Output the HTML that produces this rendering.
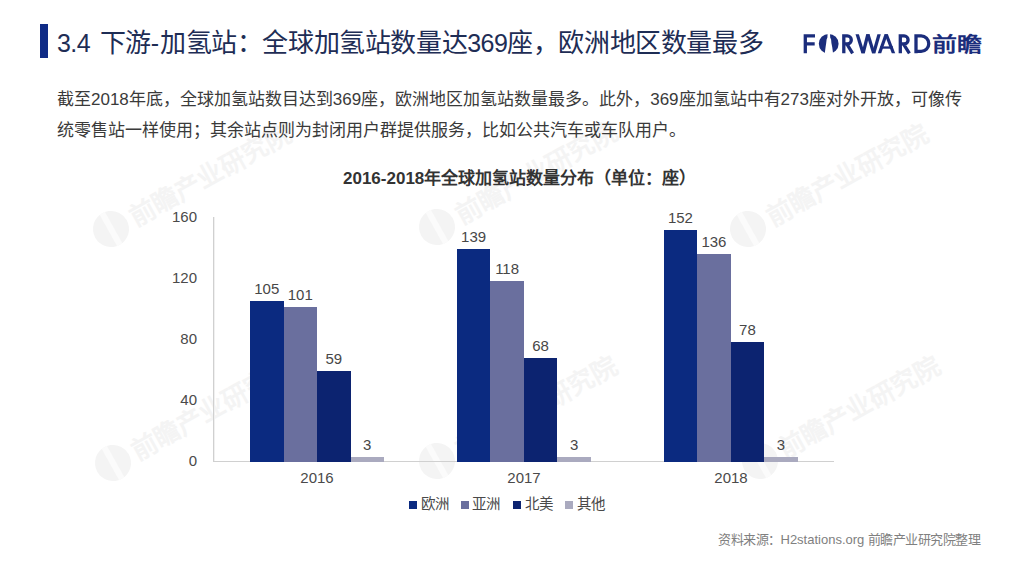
<!DOCTYPE html>
<html lang="zh-CN"><head><meta charset="utf-8">
<style>
html,body{margin:0;padding:0;background:#fff;}
body{width:1024px;height:564px;position:relative;overflow:hidden;font-family:"Liberation Sans",sans-serif;}
.a{position:absolute;white-space:nowrap;}
#tbar{left:40px;top:24px;width:8px;height:34px;background:#0f2b86;}
#title{left:57px;top:26px;font-size:26px;line-height:34px;color:#1e2d55;letter-spacing:-0.4px;}
#title .dg{font-size:25px;letter-spacing:-0.57px;}
.body{left:57px;font-size:17px;line-height:20px;color:#3a3a3a;}
#ctitle{left:343px;top:169px;font-size:17px;font-weight:bold;color:#333;line-height:20px;}
.yl{font-size:15px;color:#4a4a4a;line-height:16px;text-align:right;width:40px;}
.bar{position:absolute;}
.c1{background:#0b2a80;}
.c2{background:#6a6f9e;}
.c3{background:#0c2370;}
.c4{background:#aaaabf;}
.vl{font-size:15px;color:#474747;line-height:16px;text-align:center;width:60px;}
.lg{font-size:14.5px;color:#4a4a4a;line-height:16px;}
.sq{position:absolute;width:8px;height:8px;}
#src{left:718px;top:532px;font-size:13px;color:#808080;line-height:16px;}
</style></head><body>
<svg class="a" style="left:0;top:0;" width="1024" height="564" viewBox="0 0 1024 564">
<g transform="translate(111,229) rotate(-29)" fill="#f4f4f4"><circle cx="0" cy="0" r="18"/><rect x="-3" y="-18" width="6" height="36" fill="#fbfbfb"/><text x="23" y="10" font-size="26" font-weight="bold" style="font-family:'Liberation Sans',sans-serif" textLength="180" lengthAdjust="spacingAndGlyphs">前瞻产业研究院</text></g>
<g transform="translate(437,227) rotate(-29)" fill="#f4f4f4"><circle cx="0" cy="0" r="18"/><rect x="-3" y="-18" width="6" height="36" fill="#fbfbfb"/><text x="23" y="10" font-size="26" font-weight="bold" style="font-family:'Liberation Sans',sans-serif" textLength="180" lengthAdjust="spacingAndGlyphs">前瞻产业研究院</text></g>
<g transform="translate(748,229) rotate(-29)" fill="#f4f4f4"><circle cx="0" cy="0" r="18"/><rect x="-3" y="-18" width="6" height="36" fill="#fbfbfb"/><text x="23" y="10" font-size="26" font-weight="bold" style="font-family:'Liberation Sans',sans-serif" textLength="180" lengthAdjust="spacingAndGlyphs">前瞻产业研究院</text></g>
<g transform="translate(113,463) rotate(-29)" fill="#f4f4f4"><circle cx="0" cy="0" r="18"/><rect x="-3" y="-18" width="6" height="36" fill="#fbfbfb"/><text x="23" y="10" font-size="26" font-weight="bold" style="font-family:'Liberation Sans',sans-serif" textLength="180" lengthAdjust="spacingAndGlyphs">前瞻产业研究院</text></g>
<g transform="translate(437,461) rotate(-29)" fill="#f4f4f4"><circle cx="0" cy="0" r="18"/><rect x="-3" y="-18" width="6" height="36" fill="#fbfbfb"/><text x="23" y="10" font-size="26" font-weight="bold" style="font-family:'Liberation Sans',sans-serif" textLength="180" lengthAdjust="spacingAndGlyphs">前瞻产业研究院</text></g>
<g transform="translate(760,461) rotate(-29)" fill="#f4f4f4"><circle cx="0" cy="0" r="18"/><rect x="-3" y="-18" width="6" height="36" fill="#fbfbfb"/><text x="23" y="10" font-size="26" font-weight="bold" style="font-family:'Liberation Sans',sans-serif" textLength="180" lengthAdjust="spacingAndGlyphs">前瞻产业研究院</text></g>
</svg>
<div class="a" id="tbar"></div>
<div class="a" id="title"><span class="dg">3.4</span><span style="display:inline-block;width:9.5px"></span>下游<span class="dg" style="letter-spacing:1px">-</span>加氢站：全球加氢站数量达<span class="dg">369</span>座，欧洲地区数量最多</div>
<svg class="a" style="left:0;top:0;" width="1024" height="70" viewBox="0 0 1024 70">
<g fill="none" stroke="#1b2d7c" stroke-width="3.3" stroke-linejoin="miter" stroke-linecap="butt">
<path d="M805.3 53.3V35.95H815M805.3 43.95H814.7"/>
<path d="M843.8 53.3V35.95H847.3A4 4 0 0 1 847.3 43.95H843.8M846.8 43.95L852.6 53.3"/>
<path d="M900.3 53.3V35.95H904.1A4 4 0 0 1 904.1 43.95H900.3M903.4 43.95L909.4 53.3"/>
<path d="M916 53.3V35.95H921.1A7.675 7.675 0 0 1 921.1 51.3H916"/>
</g>
<g fill="#1b2d7c">
<polygon points="855.5,34.3 858.9,34.3 864.8,53.3 861.4,53.3"/>
<polygon points="866.2,34.3 869.6,34.3 864.8,53.3 861.4,53.3"/>
<polygon points="866.2,34.3 869.6,34.3 875.4,53.3 872.0,53.3"/>
<polygon points="877.4,34.3 880.8,34.3 875.4,53.3 872.0,53.3"/>
<polygon points="877.8,53.3 881.2,53.3 887.9,34.3 884.5,34.3"/>
<polygon points="884.5,34.3 887.9,34.3 895.2,53.3 891.8,53.3"/>
<rect x="880" y="46.4" width="13" height="2.3"/>
<circle cx="828.7" cy="43.8" r="9.9"/>
</g>
<path d="M827.6 33.6L830 33.6L830.2 37.5L831.1 39.5L831.4 43L832.2 47L833.2 54.5L824.6 54.5L825.6 47L826.2 43L826.6 39.5L827.4 37.5Z" fill="#fff"/>
<text x="932" y="51.6" font-size="20" font-weight="bold" fill="#1b2d7c" style="font-family:'Liberation Sans',sans-serif" textLength="50" lengthAdjust="spacingAndGlyphs">前瞻</text>
</svg>
<div class="a body" style="top:90px;">截至2018年底，全球加氢站数目达到369座，欧洲地区加氢站数量最多。此外，369座加氢站中有273座对外开放，可像传</div>
<div class="a body" style="top:120.5px;">统零售站一样使用；其余站点则为封闭用户群提供服务，比如公共汽车或车队用户。</div>
<div class="a" id="ctitle">2016-2018年全球加氢站数量分布（单位：座）</div>

<!-- axes -->
<div class="a" style="left:213px;top:217px;width:1px;height:245px;background:#d0d0d0;"></div><div class="a" style="left:214px;top:217px;width:1px;height:244px;background:#f0f0f0;"></div>
<div class="a" style="left:213px;top:461px;width:621px;height:1px;background:#d0d0d0;"></div>

<div class="a yl" style="left:157px;top:209px;">160</div>
<div class="a yl" style="left:157px;top:270px;">120</div>
<div class="a yl" style="left:157px;top:331px;">80</div>
<div class="a yl" style="left:157px;top:392px;">40</div>
<div class="a yl" style="left:157px;top:453px;">0</div>

<div id="bars">
<div class="bar c1" style="left:250.00px;top:301.18px;width:33.5px;height:160.82px;"></div>
<div class="a vl" style="left:236.75px;top:281.18px;">105</div>
<div class="bar c2" style="left:283.50px;top:307.28px;width:33.5px;height:154.72px;"></div>
<div class="a vl" style="left:270.25px;top:287.28px;">101</div>
<div class="bar c3" style="left:317.00px;top:371.33px;width:33.5px;height:90.67px;"></div>
<div class="a vl" style="left:303.75px;top:351.33px;">59</div>
<div class="bar c4" style="left:350.50px;top:456.73px;width:33.5px;height:5.27px;"></div>
<div class="a vl" style="left:337.25px;top:436.73px;">3</div>
<div class="bar c1" style="left:456.85px;top:249.33px;width:33.5px;height:212.67px;"></div>
<div class="a vl" style="left:443.60px;top:229.33px;">139</div>
<div class="bar c2" style="left:490.35px;top:281.35px;width:33.5px;height:180.65px;"></div>
<div class="a vl" style="left:477.10px;top:261.35px;">118</div>
<div class="bar c3" style="left:523.85px;top:357.60px;width:33.5px;height:104.40px;"></div>
<div class="a vl" style="left:510.60px;top:337.60px;">68</div>
<div class="bar c4" style="left:557.35px;top:456.73px;width:33.5px;height:5.27px;"></div>
<div class="a vl" style="left:544.10px;top:436.73px;">3</div>
<div class="bar c1" style="left:663.70px;top:229.50px;width:33.5px;height:232.50px;"></div>
<div class="a vl" style="left:650.45px;top:209.50px;">152</div>
<div class="bar c2" style="left:697.20px;top:253.90px;width:33.5px;height:208.10px;"></div>
<div class="a vl" style="left:683.95px;top:233.90px;">136</div>
<div class="bar c3" style="left:730.70px;top:342.35px;width:33.5px;height:119.65px;"></div>
<div class="a vl" style="left:717.45px;top:322.35px;">78</div>
<div class="bar c4" style="left:764.20px;top:456.73px;width:33.5px;height:5.27px;"></div>
<div class="a vl" style="left:750.95px;top:436.73px;">3</div>
</div>

<div class="a yl" style="left:287px;top:470px;width:60px;text-align:center;">2016</div>
<div class="a yl" style="left:494px;top:470px;width:60px;text-align:center;">2017</div>
<div class="a yl" style="left:701px;top:470px;width:60px;text-align:center;">2018</div>

<div class="sq c1" style="left:409px;top:501px;"></div>
<div class="a lg" style="left:421px;top:496px;">欧洲</div>
<div class="sq c2" style="left:461px;top:501px;"></div>
<div class="a lg" style="left:472px;top:496px;">亚洲</div>
<div class="sq c3" style="left:513px;top:501px;"></div>
<div class="a lg" style="left:525px;top:496px;">北美</div>
<div class="sq c4" style="left:565px;top:501px;"></div>
<div class="a lg" style="left:577px;top:496px;">其他</div>

<div class="a" id="src"><span style="letter-spacing:-0.5px">资料来源：</span>H2stations.org <span style="letter-spacing:-0.5px">前瞻产业研究院整理</span></div>
</body></html>
